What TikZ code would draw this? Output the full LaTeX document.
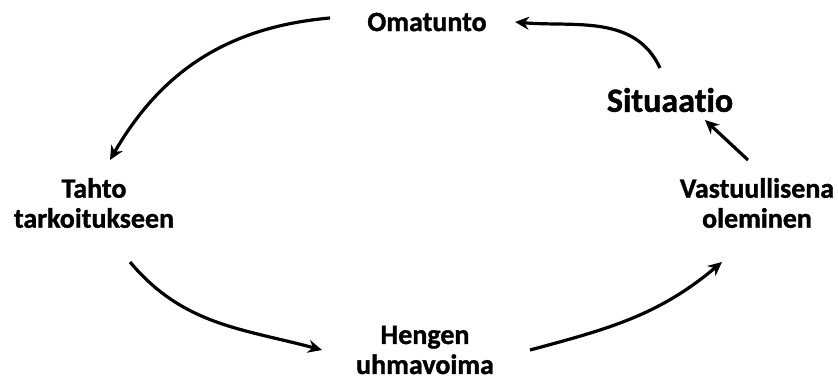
\documentclass[tikz,border=0pt]{standalone}
\usepackage{fontspec}
\setmainfont{Carlito}[Ligatures=NoCommon,BoldFeatures={FakeBold=1.2}]
\usetikzlibrary{arrows.meta,calc}
\begin{document}
\begin{tikzpicture}[x=1pt,y=1pt,
  lbl/.style={font=\bfseries\fontsize{28}{30}\selectfont, align=center, inner sep=0pt},
  big/.style={font=\bfseries\fontsize{34}{36}\selectfont, inner sep=0pt},
  arr/.style={line width=3.2pt, -{Stealth[length=14pt,width=13pt]}}]
\useasboundingbox (0,0) rectangle (838,383);
\node[lbl] (om) at (427,361) {Omatunto};
\node[big] (si) at (670,283) {Situaatio};
\node[lbl] (ta) at (94,180) {Tahto\\tarkoitukseen};
\node[lbl] (va) at (757,180) {Vastuullisena\\oleminen};
\node[lbl] (he) at (425,33) {Hengen\\uhmavoima};
\draw[arr] ($(om)+(-97,4)$) to[out=185,in=60] ($(ta)+(16,43)$);
\draw[arr] ($(ta)+(36,-59)$) to[out=-50,in=165] ($(he)+(-103,0)$);
\draw[arr] ($(he)+(105,0)$) to[out=15,in=-140] ($(va)+(-35,-59)$);
\draw[arr] ($(va)+(-9,43)$) -- ($(si)+(35,-20)$);
\draw[arr] ($(si)+(-10,32)$) to[out=115,in=-5] ($(om)+(88,0)$);
\end{tikzpicture}
\end{document}
